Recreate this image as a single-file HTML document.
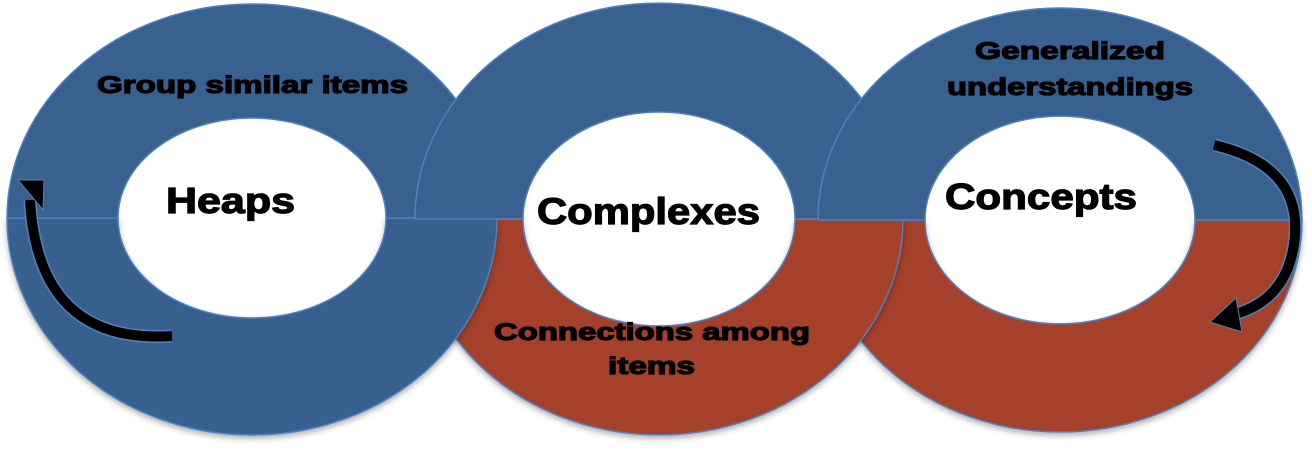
<!DOCTYPE html>
<html><head><style>
html,body{margin:0;padding:0;background:#fff;}
svg{display:block;}
text{font-family:"Liberation Sans",Arial,sans-serif;font-weight:bold;fill:#000;stroke:#000;}
</style></head><body>
<svg width="1312" height="473" viewBox="0 0 1312 473" xmlns="http://www.w3.org/2000/svg">
<defs>
<filter id="sh" x="-5%" y="-5%" width="110%" height="115%"><feDropShadow dx="0" dy="3" stdDeviation="3" flood-color="#000" flood-opacity="0.3"/></filter>
</defs>
<g stroke="#4f81bd" stroke-width="1.5">
<path filter="url(#sh)" fill="#a5412b" d="M818,220 A242,212 0 0 0 1302,220 L1195,220 A135,104 0 0 1 925,220 Z"/>
<path filter="url(#sh)" fill="#a5412b" d="M415,219 A244,216 0 0 0 903,219 L795,219 A136,107 0 0 1 523,219 Z"/>
<path filter="url(#sh)" fill="#38618f" d="M7,218 A245,217 0 0 0 497,218 L386,218 A134,100 0 0 1 118,218 Z"/>
<path fill="#38618f" d="M7,218 A245,214 0 0 1 497,218 L386,218 A134,100 0 0 0 118,218 Z"/>
<path fill="#38618f" d="M415,219 A244,216 0 0 1 903,219 L795,219 A136,107 0 0 0 523,219 Z"/>
<path fill="#38618f" d="M818,220 A242,212 0 0 1 1302,220 L1195,220 A135,104 0 0 0 925,220 Z"/>
</g>
<path d="M172,336 Q38,345 30,200" fill="none" stroke="#4f81bd" stroke-width="13"/>
<path d="M172,336 Q38,345 30,200" fill="none" stroke="#000" stroke-width="10"/>
<polygon points="18,180 44,180 43,210" fill="#000" stroke="#4f81bd" stroke-width="1"/>
<path d="M1214,145 Q1300,165 1295,235 Q1290,300 1232,315" fill="none" stroke="#4f81bd" stroke-width="13"/>
<path d="M1214,145 Q1300,165 1295,235 Q1290,300 1232,315" fill="none" stroke="#000" stroke-width="10"/>
<polygon points="1210,322 1236,298 1242,332" fill="#000" stroke="#4f81bd" stroke-width="1"/>
<g stroke-width="1.2">
<text x="97" y="93" font-size="24" textLength="311" lengthAdjust="spacingAndGlyphs">Group similar items</text>
<text x="166" y="213" font-size="36" textLength="129" lengthAdjust="spacingAndGlyphs">Heaps</text>
<text x="537" y="224" font-size="37" textLength="223" lengthAdjust="spacingAndGlyphs">Complexes</text>
<text x="945" y="209" font-size="36" textLength="192" lengthAdjust="spacingAndGlyphs">Concepts</text>
<text x="975" y="59" font-size="24" textLength="190" lengthAdjust="spacingAndGlyphs">Generalized</text>
<text x="947" y="95" font-size="24" textLength="246" lengthAdjust="spacingAndGlyphs">understandings</text>
<text x="494" y="340" font-size="24" textLength="316" lengthAdjust="spacingAndGlyphs">Connections among</text>
<text x="608" y="374" font-size="24" textLength="87" lengthAdjust="spacingAndGlyphs">items</text>
</g>
</svg>
</body></html>
